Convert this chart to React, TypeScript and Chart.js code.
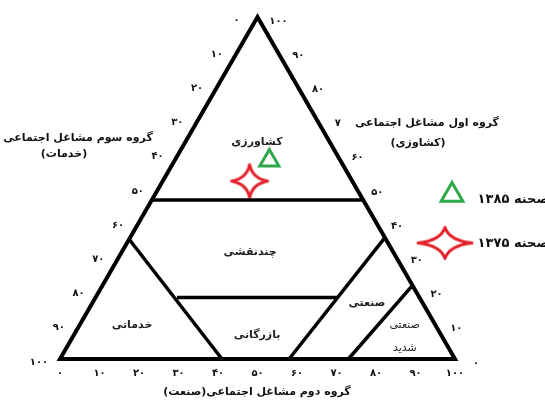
import React, { useEffect, useRef } from "react";
import { Chart, registerables } from "chart.js";
Chart.register(...registerables);

// ---- DATA ----
const tickValues = [0, 10, 20, 30, 40, 50, 60, 70, 80, 90, 100];
const bottomTickLabels = ["۰", "۱۰", "۲۰", "۳۰", "۴۰", "۵۰", "۶۰", "۷۰", "۸۰", "۹۰", "۱۰۰"];
const leftTickLabels = ["۰", "۱۰", "۲۰", "۳۰", "۴۰", "۵۰", "۶۰", "۷۰", "۸۰", "۹۰", "۱۰۰"];
const rightTickLabels = ["۰", "۱۰", "۲۰", "۳۰", "۴۰", "۵۰", "۶۰", "۷", "۸۰", "۹۰", "۱۰۰"];

const seriesNames = ["صحنه ۱۳۸۵", "صحنه ۱۳۷۵"];
const agriculture = [58, 52];
const industry = [24, 22];
const services = [18, 26];

// boundary segments (A = agriculture %, I = industry %)
const boundaryStartA = [46.5, 35, 18, 35.5, 21.5];
const boundaryStartI = [0, 0, 20.6, 64.5, 78.5];
const boundaryEndA = [46.5, 0, 18, 0, 0];
const boundaryEndI = [53.5, 41, 61.1, 58, 73];

const zoneNames = ["کشاورزی", "چندنقشی", "خدماتی", "بازرگانی", "صنعتی", "صنعتی", "شدید"];
const zoneA = [63.5, 31.3, 9.9, 7.0, 16.4, 9.9, 3.2];
const zoneI = [18.1, 32.5, 13.3, 46.4, 69.5, 82.3, 85.7];

const leftTitle = ["گروه سوم مشاغل اجتماعی", "(خدمات)"];
const rightTitle = ["گروه اول مشاغل اجتماعی", "(کشاوزی)"];
const bottomTitle = "گروه دوم مشاغل اجتماعی(صنعت)";

// ---- helpers ----
const SQ = Math.sqrt(3) / 2;
const toXY = (a: number, i: number) => ({ x: i + a / 2, y: a * SQ });

const GREEN = "#2fa84a";
const RED = "#e3222b";
const FONT = '"DejaVu Sans", sans-serif';

function makeStar(w: number, h: number, lw: number) {
  const c = document.createElement("canvas");
  c.width = Math.ceil(w + lw * 2);
  c.height = Math.ceil(h + lw * 2);
  const ctx = c.getContext("2d")!;
  ctx.translate(c.width / 2, c.height / 2);
  const rx = w / 2, ry = h / 2, k = 0.16;
  ctx.beginPath();
  ctx.moveTo(0, -ry);
  ctx.quadraticCurveTo(rx * k, -ry * k, rx, 0);
  ctx.quadraticCurveTo(rx * k, ry * k, 0, ry);
  ctx.quadraticCurveTo(-rx * k, ry * k, -rx, 0);
  ctx.quadraticCurveTo(-rx * k, -ry * k, 0, -ry);
  ctx.closePath();
  ctx.fillStyle = "#fff";
  ctx.fill();
  ctx.lineWidth = lw;
  ctx.lineJoin = "round";
  ctx.strokeStyle = RED;
  ctx.stroke();
  return c;
}

function drawText(ctx: CanvasRenderingContext2D, text: string, x: number, y: number, font: string, align: CanvasTextAlign = "center", color = "#111") {
  ctx.save();
  ctx.font = font;
  ctx.fillStyle = color;
  ctx.textAlign = align;
  ctx.textBaseline = "middle";
  (ctx as any).direction = "rtl";
  ctx.fillText(text, x, y);
  ctx.restore();
}

export default function App() {
  const ref = useRef<HTMLCanvasElement | null>(null);

  useEffect(() => {
    document.body.style.margin = "0";
    const canvas = ref.current!;
    const starSmall = makeStar(36, 33, 3);
    const starLegend = makeStar(54, 31, 3);

    const corners = [toXY(0, 0), toXY(0, 100), toXY(100, 0), toXY(0, 0), toXY(0, 100)];

    const boundaryDatasets = boundaryStartA.map((_, k) => ({
      type: "line" as const,
      data: [toXY(boundaryStartA[k], boundaryStartI[k]), toXY(boundaryEndA[k], boundaryEndI[k])],
      borderColor: "#000",
      borderWidth: 3.5,
      pointRadius: 0,
      showLine: true,
      fill: false,
      borderCapStyle: "butt" as const,
    }));

    const textPlugin = {
      id: "ternaryText",
      afterDatasetsDraw(chart: any) {
        const ctx = chart.ctx as CanvasRenderingContext2D;
        const sx = chart.scales.x, sy = chart.scales.y;
        const px = (a: number, i: number) => {
          const p = toXY(a, i);
          return { x: sx.getPixelForValue(p.x), y: sy.getPixelForValue(p.y) };
        };
        const tickFont = `bold 10px ${FONT}`;
        // bottom ticks (industry)
        tickValues.forEach((v, k) => {
          const p = px(0, v);
          drawText(ctx, bottomTickLabels[k], p.x, p.y + 14, tickFont);
        });
        // left ticks (services, 0 at top)
        tickValues.forEach((v, k) => {
          const p = px(100 - v, 0);
          drawText(ctx, leftTickLabels[k], p.x - 21, p.y + 3, tickFont);
        });
        // right ticks (agriculture, 0 at bottom)
        tickValues.forEach((v, k) => {
          const p = px(v, 100 - v);
          drawText(ctx, rightTickLabels[k], p.x + 21, p.y + 4, tickFont);
        });
        // zone labels
        zoneNames.forEach((name, k) => {
          const p = px(zoneA[k], zoneI[k]);
          const small = k >= 5;
          drawText(ctx, name, p.x, p.y, small ? `11px ${FONT}` : `bold 11px ${FONT}`, "center", "#222");
        });
        // titles
        const titleFont = `bold 11px ${FONT}`;
        drawText(ctx, leftTitle[0], 78, 138, titleFont);
        drawText(ctx, leftTitle[1], 64, 154, titleFont);
        drawText(ctx, rightTitle[0], 427, 123, titleFont);
        drawText(ctx, rightTitle[1], 418, 143, titleFont);
        drawText(ctx, bottomTitle, 257, 392, titleFont);

        // legend
        ctx.save();
        ctx.beginPath();
        const tx = 452, ty = 195, r = 12.5;
        ctx.moveTo(tx, ty - r);
        ctx.lineTo(tx + r * SQ, ty + r / 2);
        ctx.lineTo(tx - r * SQ, ty + r / 2);
        ctx.closePath();
        ctx.lineWidth = 3;
        ctx.lineJoin = "miter";
        ctx.strokeStyle = GREEN;
        ctx.stroke();
        ctx.restore();
        ctx.drawImage(starLegend, 445 - starLegend.width / 2, 243 - starLegend.height / 2);
        drawText(ctx, seriesNames[0], 549, 200, `bold 13px ${FONT}`, "right");
        drawText(ctx, seriesNames[1], 549, 244, `bold 13px ${FONT}`, "right");
      },
    };

    const chart = new Chart(canvas, {
      type: "scatter",
      data: {
        datasets: [
          {
            type: "line",
            data: corners,
            borderColor: "#000",
            borderWidth: 4,
            pointRadius: 0,
            fill: false,
            borderJoinStyle: "miter",
          } as any,
          ...boundaryDatasets,
          {
            label: seriesNames[0],
            data: [toXY(agriculture[0], industry[0])],
            pointStyle: "triangle",
            radius: 11,
            borderColor: GREEN,
            borderWidth: 3,
            backgroundColor: "rgba(255,255,255,0)",
          } as any,
          {
            label: seriesNames[1],
            data: [toXY(agriculture[1], industry[1])],
            pointStyle: starSmall,
            radius: 17,
          } as any,
        ],
      },
      options: {
        responsive: false,
        maintainAspectRatio: false,
        devicePixelRatio: 1,
        animation: false,
        layout: { padding: 0, autoPadding: false },
        plugins: { legend: { display: false }, tooltip: { enabled: false } },
        events: [],
        scales: {
          x: { type: "linear", display: false, min: -60 / 3.95, max: 485 / 3.95 },
          y: { type: "linear", display: false, min: -41 / 3.95, max: 359 / 3.95 },
        },
      },
      plugins: [textPlugin],
    });
    void services;
    return () => chart.destroy();
  }, []);

  return (
    <div style={{ width: 545, height: 400, background: "#fff" }}>
      <canvas ref={ref} width={545} height={400} style={{ display: "block" }} />
    </div>
  );
}
